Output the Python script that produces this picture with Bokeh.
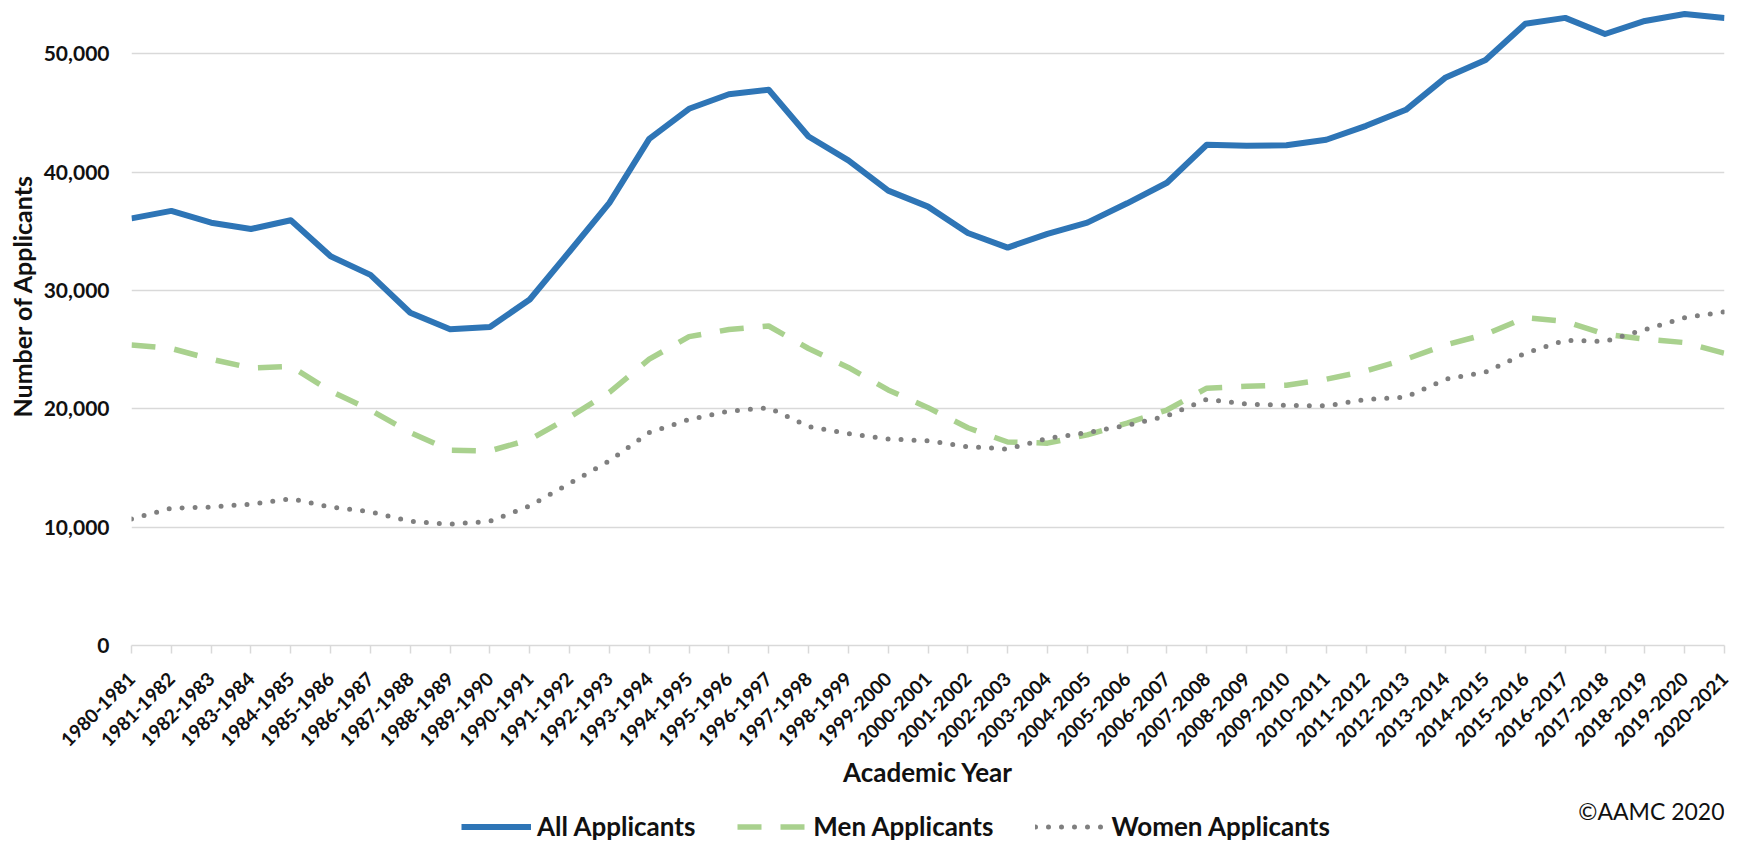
import math
from bokeh.plotting import figure
from bokeh.layouts import column
from bokeh.models import Range1d, FixedTicker, NumeralTickFormatter, Legend, LegendItem, Title, Label
from bokeh.embed import file_html
from bokeh.resources import INLINE

years = ["1980-1981", "1981-1982", "1982-1983", "1983-1984", "1984-1985", "1985-1986",
         "1986-1987", "1987-1988", "1988-1989", "1989-1990", "1990-1991", "1991-1992",
         "1992-1993", "1993-1994", "1994-1995", "1995-1996", "1996-1997", "1997-1998",
         "1998-1999", "1999-2000", "2000-2001", "2001-2002", "2002-2003", "2003-2004",
         "2004-2005", "2005-2006", "2006-2007", "2007-2008", "2008-2009", "2009-2010",
         "2010-2011", "2011-2012", "2012-2013", "2013-2014", "2014-2015", "2015-2016",
         "2016-2017", "2017-2018", "2018-2019", "2019-2020", "2020-2021"]

all_applicants = [36100, 36730, 35730, 35200, 35940, 32890, 31320, 28120, 26720, 26920,
                  29240, 33300, 37410, 42810, 45360, 46590, 46970, 43020, 41000, 38440,
                  37090, 34860, 33630, 34790, 35740, 37370, 39110, 42320, 42230, 42270,
                  42740, 43920, 45270, 48010, 49480, 52550, 53040, 51680, 52780, 53370, 53030]

men_applicants = [25400, 25100, 24200, 23450, 23600, 21500, 19900, 18000, 16500, 16450,
                  17400, 19300, 21400, 24200, 26100, 26700, 27000, 25100, 23500, 21600,
                  20100, 18400, 17200, 17100, 17800, 18800, 19900, 21750, 21900, 22000,
                  22500, 23200, 24200, 25400, 26300, 27700, 27400, 26300, 25900, 25600, 24700]

women_applicants = [10700, 11600, 11700, 11950, 12400, 11700, 11300, 10500, 10250, 10500,
                    11800, 13700, 15600, 18000, 19100, 19800, 20100, 18500, 17900, 17450,
                    17300, 16800, 16600, 17500, 18000, 18600, 19400, 20800, 20400, 20300,
                    20250, 20800, 21000, 22500, 23100, 24700, 25800, 25700, 26700, 27700, 28200]

series_names = ["All Applicants", "Men Applicants", "Women Applicants"]
y_ticks = [0, 10000, 20000, 30000, 40000, 50000]

FONT = "Lato"
TXT = "#111111"
GRID = "#D9D9D9"
STYLES = [dict(line_color="#2E75B6", line_width=6, line_join="round"),
          dict(line_color="#A9D18E", line_width=5.5, line_dash="24 19"),
          dict(line_color="#7F7F7F", line_width=5, line_dash="0 13", line_cap="round")]

xs = list(range(len(years)))
data = [all_applicants, men_applicants, women_applicants]

# ---------------- main chart ----------------
p = figure(width=1743, height=790, output_backend="svg", toolbar_location=None,
           x_range=Range1d(0, len(years) - 1), y_range=Range1d(0, 54510),
           min_border_left=130, min_border_right=19, min_border_top=0, min_border_bottom=145)
p.outline_line_color = None
p.background_fill_color = "white"

for vals, st in zip(data, STYLES):
    p.line(xs, vals, **st)

xa = p.xaxis[0]
xa.ticker = FixedTicker(ticks=xs)
xa.major_label_overrides = {i: y for i, y in enumerate(years)}
xa.major_label_orientation = math.pi / 4
xa.major_label_text_font = FONT
xa.major_label_text_font_style = "bold"
xa.major_label_text_font_size = "19px"
xa.major_label_text_color = TXT
xa.major_label_standoff = 22
xa.major_tick_out = 8
xa.major_tick_in = 0
xa.major_tick_line_color = GRID
xa.major_tick_line_width = 1.5
xa.minor_tick_line_color = None
xa.axis_line_color = GRID
xa.axis_line_width = 1.5
xa.axis_label = "Academic Year"
xa.axis_label_text_font = FONT
xa.axis_label_text_font_style = "bold"
xa.axis_label_text_font_size = "26px"
xa.axis_label_text_color = TXT
xa.axis_label_standoff = 0

ya = p.yaxis[0]
ya.ticker = FixedTicker(ticks=y_ticks)
ya.formatter = NumeralTickFormatter(format="0,0")
ya.major_label_text_font = FONT
ya.major_label_text_font_style = "bold"
ya.major_label_text_font_size = "21px"
ya.major_label_text_color = TXT
ya.major_label_standoff = 22
ya.major_tick_out = 0
ya.major_tick_in = 0
ya.minor_tick_line_color = None
ya.axis_line_color = None

# y-axis title: starts 228 px above the frame bottom, as in the original
p.add_layout(Title(text="Number of Applicants", align="left", offset=228, standoff=8,
                   text_font=FONT, text_font_style="bold", text_font_size="25px",
                   text_color=TXT), "left")

p.xgrid.visible = False
p.ygrid.ticker = FixedTicker(ticks=y_ticks)
p.ygrid.grid_line_color = GRID
p.ygrid.grid_line_width = 1.5

# ---------------- legend strip (copyright + legend) ----------------
q = figure(width=1743, height=52, output_backend="svg", toolbar_location=None,
           x_range=Range1d(-1000, -999), y_range=Range1d(-1000, -999),
           x_axis_type=None, y_axis_type=None,
           min_border_left=0, min_border_right=0, min_border_top=0, min_border_bottom=0)
q.outline_line_color = None
q.xgrid.visible = False
q.ygrid.visible = False

items = []
for name, vals, st in zip(series_names, data, STYLES):
    r = q.line(xs, vals, **st)
    items.append(LegendItem(label=name, renderers=[r]))

legend = Legend(items=items, orientation="horizontal", location=(330, 0),
                glyph_width=70, glyph_height=25, label_height=25, label_standoff=6,
                spacing=42, padding=0, margin=0,
                border_line_color=None, background_fill_alpha=0,
                label_text_font=FONT, label_text_font_style="bold",
                label_text_font_size="26px", label_text_color=TXT)
q.add_layout(legend, "center")

q.add_layout(Label(x=1593, y=32, x_units="screen", y_units="screen",
                   text="\u00a9AAMC 2020", text_align="right", text_baseline="alphabetic",
                   text_font=FONT, text_font_size="23px", text_color=TXT))

layout = column(p, q, spacing=0)
open("out.html", "w").write(file_html(layout, INLINE))
